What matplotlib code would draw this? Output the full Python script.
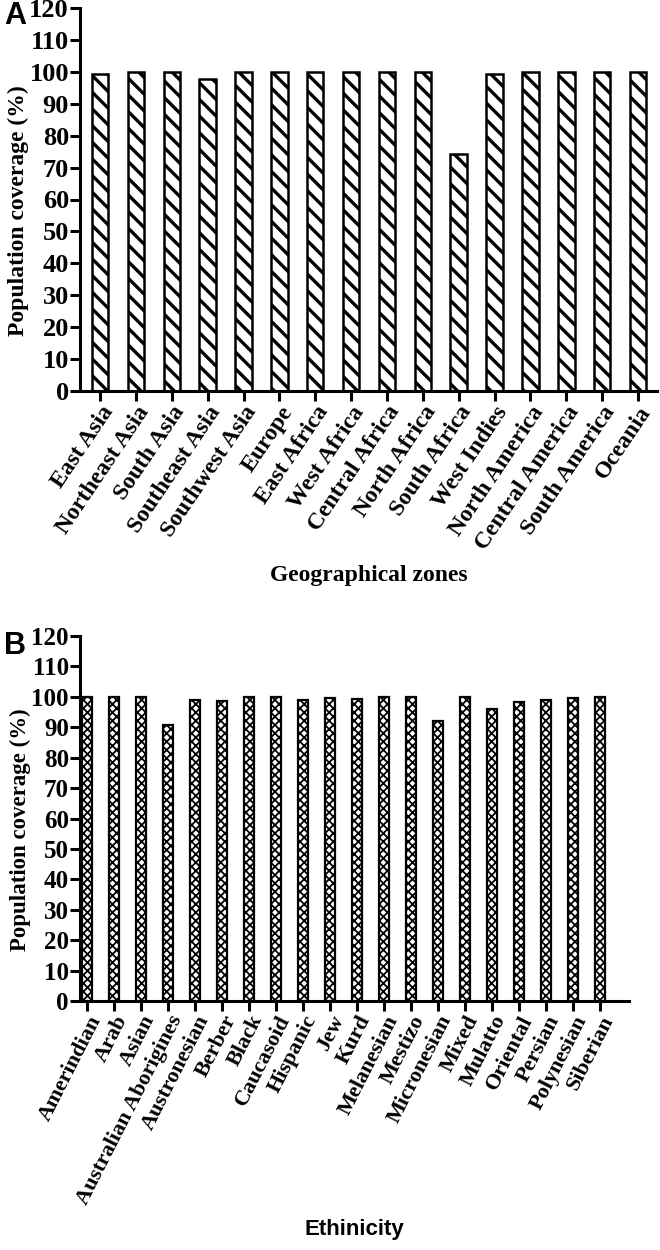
import numpy as np
import matplotlib.pyplot as plt

zones = ['East Asia', 'Northeast Asia', 'South Asia', 'Southeast Asia', 'Southwest Asia',
         'Europe', 'East Africa', 'West Africa', 'Central Africa', 'North Africa',
         'South Africa', 'West Indies', 'North America', 'Central America',
         'South America', 'Oceania']
zone_cov = [99.2, 99.8, 100.0, 97.9, 99.9, 100.0, 100.0, 100.0, 100.0, 100.0,
            74.4, 99.2, 100.0, 100.0, 100.0, 99.8]

ethnic = ['Amerindian', 'Arab', 'Asian', 'Australian Aborigines', 'Austronesian',
          'Berber', 'Black', 'Caucasoid', 'Hispanic', 'Jew', 'Kurd', 'Melanesian',
          'Mestizo', 'Micronesian', 'Mixed', 'Mulatto', 'Oriental', 'Persian',
          'Polynesian', 'Siberian']
ethnic_cov = [100.0, 99.8, 100.0, 90.8, 98.9, 98.6, 100.0, 100.0, 99.0, 99.6,
              99.2, 100.0, 99.8, 92.2, 99.8, 96.1, 98.4, 99.0, 99.6, 100.0]

serif = 'Liberation Serif'
sans = 'Liberation Sans'

fig = plt.figure(figsize=(6.6, 12.5), dpi=100)
W, H = 660, 1250
axA = fig.add_axes([80/W, 1 - 391/H, (657-80)/W, (391-8)/H])
axB = fig.add_axes([80/W, 1 - 1001/H, (629-80)/W, (1001-636)/H])


def style(ax, fs):
    for s in ['top', 'right']:
        ax.spines[s].set_visible(False)
    for s in ['left', 'bottom']:
        ax.spines[s].set_linewidth(2.2)
    ax.set_ylim(0, 120)
    ax.set_yticks(np.arange(0, 121, 10))
    ax.tick_params(axis='both', direction='out', length=7, width=2.2, pad=1)
    for lab in ax.get_yticklabels():
        lab.set_fontfamily(serif)
        lab.set_fontweight('bold')
        lab.set_fontsize(fs)


# Panel A
xa = np.arange(len(zones))
barsA = axA.bar(xa, zone_cov, width=0.46, facecolor='white', edgecolor='black',
                linewidth=1.8, hatch='\\\\')
for b in barsA:
    if hasattr(b, 'set_hatch_linewidth'):
        b.set_hatch_linewidth(2.4)
axA.set_xlim(-0.56, len(zones) - 1 + 0.53)
style(axA, 19)
axA.set_xticks(xa)
axA.set_xticklabels(zones, rotation=56, ha='right', rotation_mode='anchor',
                    fontfamily=serif, fontweight='bold', fontsize=17)
axA.set_ylabel('Population coverage (%)', fontfamily=serif, fontweight='bold',
               fontsize=17, va='center')
axA.yaxis.set_label_coords(-62/577, 0.47)
axA.set_xlabel('Geographical zones', fontfamily=serif, fontweight='bold',
               fontsize=17, labelpad=8)
fig.text(4/W, 1 - 16/H, 'A', fontfamily=sans, fontweight='bold', fontsize=22,
         va='center', ha='left')

# Panel B
xb = np.arange(len(ethnic))
barsB = axB.bar(xb, ethnic_cov, width=0.37, facecolor='white', edgecolor='black',
                linewidth=1.6, hatch='xxxx')
for b in barsB:
    if hasattr(b, 'set_hatch_linewidth'):
        b.set_hatch_linewidth(1.3)
axB.set_xlim(-0.27, len(ethnic) - 1 + 1.07)
style(axB, 18)
axB.set_xticks(xb)
axB.set_xticklabels(ethnic, rotation=63, ha='right', rotation_mode='anchor',
                    fontfamily=serif, fontweight='bold', fontsize=16)
axB.set_ylabel('Population coverage (%)', fontfamily=serif, fontweight='bold',
               fontsize=16.5, va='center')
axB.yaxis.set_label_coords(-60/549, 0.47)
axB.set_xlabel('Ethinicity', fontfamily=sans, fontweight='bold', fontsize=16,
               labelpad=8)
fig.text(4/W, 1 - 646/H, 'B', fontfamily=sans, fontweight='bold', fontsize=22,
         va='center', ha='left')

fig.savefig('out.png', dpi=100)
